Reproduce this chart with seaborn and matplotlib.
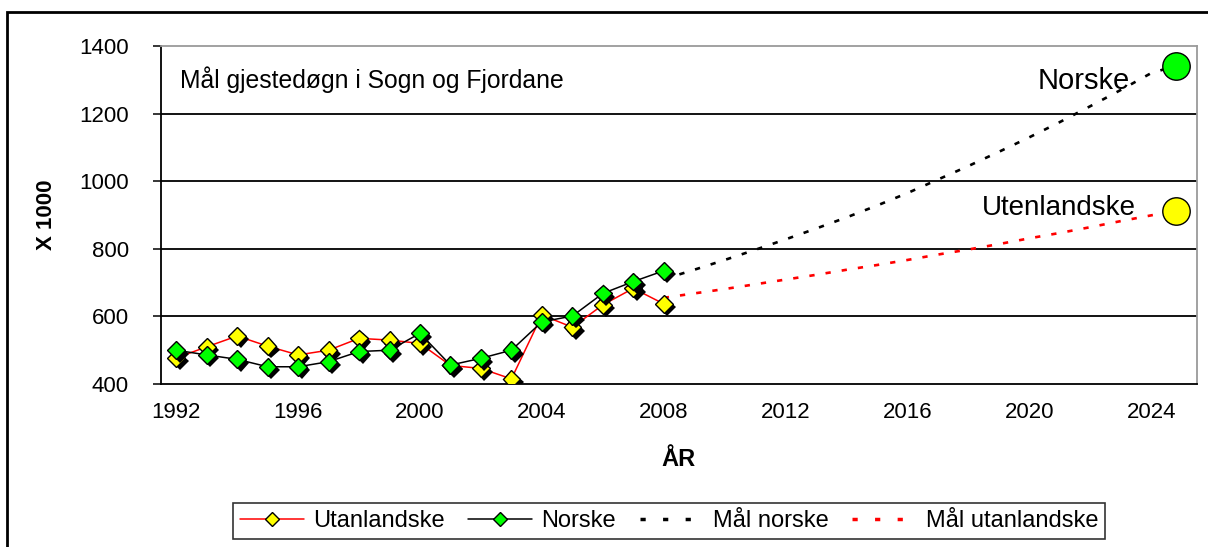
import matplotlib
matplotlib.use("Agg")
import matplotlib.pyplot as plt
import matplotlib.patheffects as pe
from matplotlib.lines import Line2D
from matplotlib.patches import Rectangle
from matplotlib.ticker import FixedLocator
import seaborn as sns
import pandas as pd

# ---------------- data ----------------
years = list(range(1992, 2009))
utanlandske = [477, 510, 542, 512, 486, 500, 535, 530, 520, 455, 446, 415, 604, 568, 634, 683, 637]
norske = [500, 486, 473, 451, 451, 466, 496, 500, 550, 456, 476, 500, 584, 601, 668, 703, 735]

goal_years = [2008, 2009, 2010, 2011, 2012, 2013, 2014, 2015, 2016, 2017, 2018,
              2019, 2020, 2021, 2022, 2023, 2024, 2024.8]
goal_norske = [710, 738, 767, 797, 828, 860, 893, 928, 965, 1005, 1045,
               1087, 1130, 1175, 1222, 1270, 1320, 1341]
goal_utanl = [655, 668, 681, 695, 709, 723, 738, 752, 767, 783, 798,
              814, 831, 847, 864, 882, 899, 912]

target_year = 2024.8
target_norske = 1341
target_utanl = 912

tick_years = [1992, 1996, 2000, 2004, 2008, 2012, 2016, 2020, 2024]
y_ticks = [400, 600, 800, 1000, 1200, 1400]

title_text = "Mål gjestedøgn i Sogn og Fjordane"
label_norske = "Norske"
label_utanl = "Utenlandske"
legend_labels = ["Utanlandske", "Norske", "Mål norske", "Mål utanlandske"]

# ---------------- frames ----------------
df_hist = pd.DataFrame({"year": years, "Utanlandske": utanlandske, "Norske": norske})
df_goal = pd.DataFrame({"year": goal_years, "norske": goal_norske, "utanl": goal_utanl})

sns.set_style("white")
plt.rcParams["font.family"] = ["Liberation Sans", "DejaVu Sans"]
plt.rcParams["text.color"] = "black"
plt.rcParams["xtick.color"] = "black"
plt.rcParams["ytick.color"] = "black"
plt.rcParams["axes.labelcolor"] = "black"

W, H = 1208, 547
fig = plt.figure(figsize=(W / 100, H / 100), dpi=100)
L, R, T, B = 161, 1197, 46, 384
ax = fig.add_axes([L / W, 1 - B / H, (R - L) / W, (B - T) / H])

# outer chart border
fig.patches.append(Rectangle((7 / W, -0.05), 1.2, 1 - 12 / H + 0.05, transform=fig.transFigure,
                             fill=False, edgecolor="black", linewidth=2, zorder=0))

# grid lines
for yv in [600, 800, 1000, 1200]:
    ax.axhline(yv, color="black", linewidth=1.3, zorder=1)

# goal dotted lines
dots = (0, (2.0, 4.2))
sns.lineplot(data=df_goal, x="year", y="norske", ax=ax, color="black",
             linewidth=1.9, linestyle=dots, zorder=2)
sns.lineplot(data=df_goal, x="year", y="utanl", ax=ax, color="#ff0000",
             linewidth=1.9, linestyle=dots, zorder=2)

# history lines
sns.lineplot(data=df_hist, x="year", y="Utanlandske", ax=ax, color="#ff0000",
             linewidth=1.1, zorder=3)
sns.lineplot(data=df_hist, x="year", y="Norske", ax=ax, color="black",
             linewidth=1.1, zorder=4)

shadow = [pe.SimplePatchShadow(offset=(2.5, -2.5), shadow_rgbFace="black", alpha=1.0), pe.Normal()]
sns.lineplot(data=df_hist, x="year", y="Utanlandske", ax=ax, linestyle="", marker="D",
             markersize=9, markerfacecolor="#ffff00", markeredgecolor="black",
             markeredgewidth=1.0, zorder=5, path_effects=shadow)
sns.lineplot(data=df_hist, x="year", y="Norske", ax=ax, linestyle="", marker="D",
             markersize=9, markerfacecolor="#00ff00", markeredgecolor="black",
             markeredgewidth=1.0, zorder=6, path_effects=shadow)

# target circles
sns.scatterplot(x=[target_year], y=[target_norske], ax=ax, s=390, color="#00ff00",
                edgecolor="black", linewidth=1.0, zorder=7)
sns.scatterplot(x=[target_year], y=[target_utanl], ax=ax, s=390, color="#ffff00",
                edgecolor="black", linewidth=1.0, zorder=7)

# axes styling
ax.set_xlim(1991.5, 2025.5)
ax.set_ylim(400, 1400)
ax.set_xlabel("")
ax.set_ylabel("")
ax.xaxis.set_major_locator(FixedLocator(tick_years))
ax.xaxis.set_minor_locator(FixedLocator([y - 0.5 for y in range(1992, 2027)]))
ax.set_xticklabels([str(t) for t in tick_years])
ax.set_yticks(y_ticks)
ax.set_yticklabels([str(v) for v in y_ticks])
ax.tick_params(axis="x", which="major", length=0, pad=13, labelsize=16, labelcolor="black")
ax.tick_params(axis="x", which="minor", length=6, width=1.1, color="black", direction="out")
ax.tick_params(axis="y", which="major", length=6, width=1.1, color="black", direction="out",
               left=True, pad=17, labelsize=16, labelcolor="black")
for s in ["left", "bottom"]:
    ax.spines[s].set_color("black")
    ax.spines[s].set_linewidth(1.3)
for s in ["top", "right"]:
    ax.spines[s].set_color("#9a9a9a")
    ax.spines[s].set_linewidth(1.3)
ax.set_facecolor("white")

# texts
ax.text(1992.12, 1300, title_text, fontsize=17.8, ha="left", va="center", color="black")
ax.text(2023.3, 1296, label_norske, fontsize=21, ha="right", va="center", color="black")
ax.text(2023.5, 921, label_utanl, fontsize=20, ha="right", va="center", color="black")
fig.text(678 / W, 1 - 460 / H, "ÅR", fontsize=17, fontweight="bold", ha="center", va="center",
         color="black")
fig.text(46 / W, 1 - 215 / H, "X 1000", fontsize=16, fontweight="bold", ha="center", va="center",
         rotation=90, color="black")

# legend
handles = [
    Line2D([], [], color="#ff0000", linewidth=1.1, marker="D", markersize=7,
           markerfacecolor="#ffff00", markeredgecolor="black"),
    Line2D([], [], color="black", linewidth=1.1, marker="D", markersize=7,
           markerfacecolor="#00ff00", markeredgecolor="black"),
    Line2D([], [], color="black", linewidth=2.5, linestyle=(0, (1.5, 5))),
    Line2D([], [], color="#ff0000", linewidth=2.5, linestyle=(0, (1.5, 5))),
]
leg = fig.legend(handles, legend_labels, loc="center", bbox_to_anchor=(669 / W, 1 - 521 / H),
                 ncol=4, fontsize=17, frameon=True, fancybox=False, handlelength=2.7,
                 handletextpad=0.4, columnspacing=1.0, borderpad=0.3)
leg.get_frame().set_edgecolor("black")
leg.get_frame().set_linewidth(1.2)
for t in leg.get_texts():
    t.set_color("black")

fig.savefig("out.png", dpi=100, facecolor="white")
